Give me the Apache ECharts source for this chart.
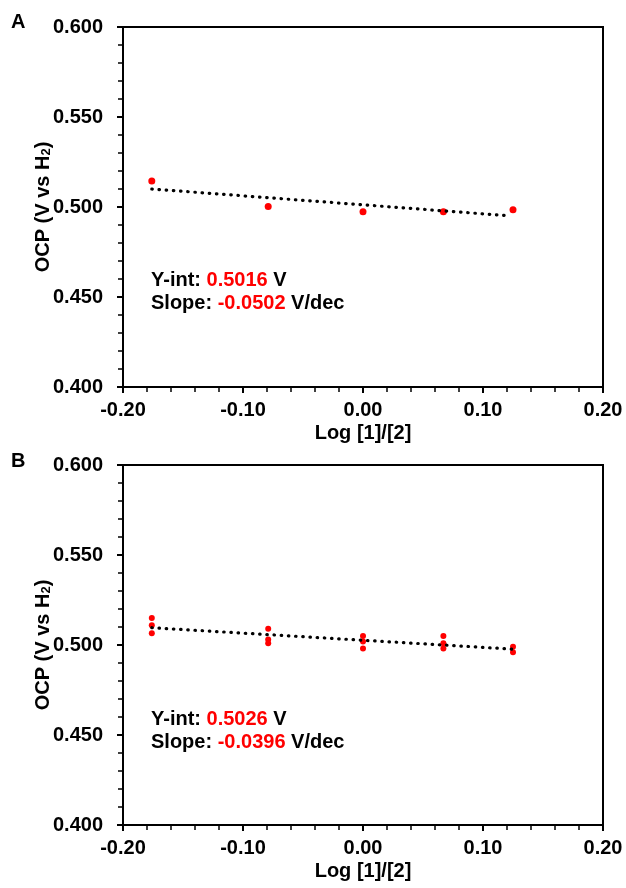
<!DOCTYPE html>
<html>
<head>
<meta charset="utf-8">
<script src="https://cdn.jsdelivr.net/npm/echarts@6/dist/echarts.min.js"></script>
<style>
html,body{margin:0;padding:0;background:#fff;}
#chart{width:626px;height:888px;}
</style>
</head>
<body>
<div id="chart"></div>
<script>
// ---- Data ----
const xTickLabels = ['-0.20', '-0.10', '0.00', '0.10', '0.20'];
const yTickLabels = ['0.400', '0.450', '0.500', '0.550', '0.600'];

// Panel A
const xA = [-0.176, -0.079, 0.000, 0.067, 0.125];
const yA = [0.5144, 0.5003, 0.4974, 0.4974, 0.4985];
const trendAx = [-0.176, 0.122];
const trendAy = [0.5100, 0.4951];
const yIntA = '0.5016';
const slopeA = '-0.0502';

// Panel B
const xB = [-0.176, -0.176, -0.176, -0.079, -0.079, -0.079, 0.000, 0.000, 0.000, 0.067, 0.067, 0.067, 0.125, 0.125];
const yB = [0.5150, 0.5110, 0.5065, 0.5090, 0.5030, 0.5010, 0.5050, 0.5020, 0.4980, 0.5050, 0.5010, 0.4980, 0.4990, 0.4960];
const trendBx = [-0.176, 0.125];
const trendBy = [0.5096, 0.4977];
const yIntB = '0.5026';
const slopeB = '-0.0396';

const FONT = "'Liberation Sans', Arial, sans-serif";
const chart = echarts.init(document.getElementById('chart'), null, {renderer: 'canvas'});

function pairs(xs, ys) { return xs.map((x, i) => [x, ys[i]]); }

function xAxisDef(gi) {
  return {
    type: 'value', gridIndex: gi, min: -0.2, max: 0.2, interval: 0.1,
    name: 'Log [1]/[2]', nameLocation: 'middle', nameGap: 36, nameMoveOverlap: false,
    nameTextStyle: {fontFamily: FONT, fontWeight: 'bold', fontSize: 20, color: '#000'},
    axisLine: {show: true, onZero: false, lineStyle: {color: '#000', width: 2}},
    axisTick: {show: true, inside: false, length: 6, lineStyle: {color: '#000', width: 2}},
    minorTick: {show: true, splitNumber: 5, length: 5, lineStyle: {color: '#000', width: 1.5}},
    splitLine: {show: false},
    axisLabel: {
      margin: 13, fontFamily: FONT, fontWeight: 'bold', fontSize: 20, color: '#000',
      formatter: v => xTickLabels[Math.round((v + 0.2) / 0.1)]
    }
  };
}
function yAxisDef(gi) {
  return {
    type: 'value', gridIndex: gi, min: 0.4, max: 0.6, interval: 0.05,
    name: 'OCP (V vs H{sub|2})', nameLocation: 'middle', nameGap: 70, nameRotate: 90, nameMoveOverlap: false,
    nameTextStyle: {
      fontFamily: FONT, fontWeight: 'bold', fontSize: 20, color: '#000',
      rich: {sub: {fontFamily: FONT, fontWeight: 'bold', fontSize: 13, color: '#000', verticalAlign: 'bottom', lineHeight: 12}}
    },
    axisLine: {show: true, onZero: false, lineStyle: {color: '#000', width: 2}},
    axisTick: {show: true, inside: false, length: 6, lineStyle: {color: '#000', width: 2}},
    minorTick: {show: true, splitNumber: 5, length: 5, lineStyle: {color: '#000', width: 1.5}},
    splitLine: {show: false},
    axisLabel: {
      margin: 20, fontFamily: FONT, fontWeight: 'bold', fontSize: 20, color: '#000',
      formatter: v => yTickLabels[Math.round((v - 0.4) / 0.05)]
    }
  };
}
function scatter(gi, data, size) {
  return {type: 'scatter', xAxisIndex: gi, yAxisIndex: gi, data: data, symbolSize: size,
    itemStyle: {color: '#ff0000', opacity: 1}, z: 3, silent: true};
}
function trend(gi, data) {
  return {type: 'line', xAxisIndex: gi, yAxisIndex: gi, data: data, symbol: 'none',
    lineStyle: {color: '#000', width: 3.2, type: [0.5, 6.7], cap: 'round'}, z: 4, silent: true};
}
function annot(top, yint, slope) {
  return {
    type: 'text', left: 151, top: top,
    style: {
      text: '{k|Y-int: }{v|' + yint + '}{k| V}\n{k|Slope: }{v|' + slope + '}{k| V/dec}',
      rich: {
        k: {fontFamily: FONT, fontWeight: 'bold', fontSize: 20, fill: '#000', lineHeight: 23},
        v: {fontFamily: FONT, fontWeight: 'bold', fontSize: 20, fill: '#ff0000', lineHeight: 23}
      }
    }
  };
}

const option = {
  backgroundColor: '#fff',
  animation: false,
  grid: [
    {left: 123, top: 27, width: 480, height: 360, show: true, borderColor: '#000', borderWidth: 2, containLabel: false},
    {left: 123, top: 465, width: 480, height: 360, show: true, borderColor: '#000', borderWidth: 2, containLabel: false}
  ],
  xAxis: [xAxisDef(0), xAxisDef(1)],
  yAxis: [yAxisDef(0), yAxisDef(1)],
  series: [
    scatter(0, pairs(xA, yA), 7),
    trend(0, pairs(trendAx, trendAy)),
    scatter(1, pairs(xB, yB), 6),
    trend(1, pairs(trendBx, trendBy))
  ],
  graphic: [
    {type: 'text', left: 11, top: 12, style: {text: 'A', fontFamily: FONT, fontWeight: 'bold', fontSize: 20, fill: '#000'}},
    {type: 'text', left: 11, top: 451, style: {text: 'B', fontFamily: FONT, fontWeight: 'bold', fontSize: 20, fill: '#000'}},
    annot(270, yIntA, slopeA),
    annot(709, yIntB, slopeB)
  ]
};
chart.setOption(option);
</script>
</body>
</html>
